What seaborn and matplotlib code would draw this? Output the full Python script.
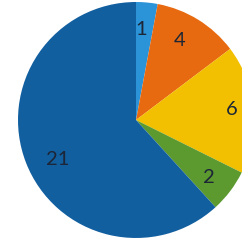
import matplotlib
matplotlib.use("Agg")
import numpy as np
import matplotlib.pyplot as plt
import seaborn as sns

# slice values, clockwise from 12 o'clock
values = [1, 4, 6, 2, 21]
labels = ["1", "4", "6", "2", "21"]
colors = ["#2B93D8", "#E86A10", "#F2C000", "#5C9A30", "#125FA0"]

# small per-label nudges (angle shift in degrees, distance from centre)
label_shift = [1.8, 2.8, 0.7, -1.1, 5.9]
label_dist = [0.768, 0.770, 0.818, 0.787, 0.743]

sns.set_theme(style="white")
plt.rcParams['font.family'] = ['Lato', 'DejaVu Sans']
palette = sns.color_palette(colors)

fig = plt.figure(figsize=(2.42, 2.42), dpi=100)
ax = fig.add_axes([0, 0, 1, 1])

wedges, texts = ax.pie(values, labels=labels, colors=palette, startangle=90,
                       counterclock=False, labeldistance=0.77, radius=1.0,
                       textprops=dict(fontsize=14.5, color="#1c2636",
                                      ha="center", va="center"),
                       wedgeprops=dict(linewidth=0))

for w, t, sh, d in zip(wedges, texts, label_shift, label_dist):
    ang = np.deg2rad((w.theta1 + w.theta2) / 2 + sh)
    t.set_position((d * np.cos(ang), d * np.sin(ang)))

# pie is cropped on the right, like the original screenshot
ax.set_xlim(-1.1525, 0.898)
ax.set_ylim(-1.034, 1.017)
ax.set_aspect("auto")
ax.axis("off")

fig.savefig("out.png", dpi=100)
